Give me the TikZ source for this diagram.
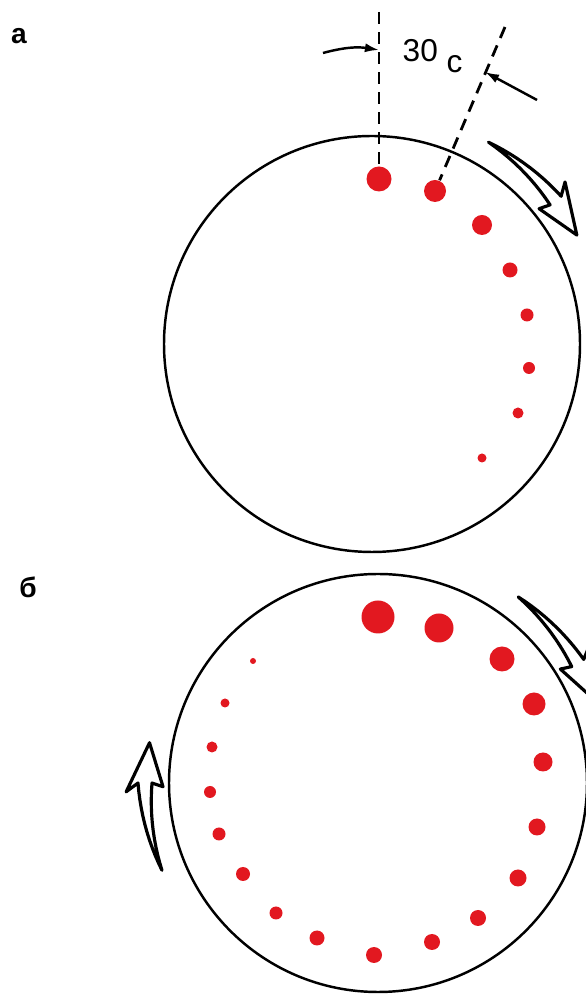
\documentclass[tikz,border=0pt]{standalone}
\usepackage{fontspec}
\setmainfont{Liberation Sans}
\usepackage{tikz}
\usetikzlibrary{arrows.meta, calc}

\definecolor{drop}{RGB}{226,24,32}

\begin{document}
\begin{tikzpicture}[
    x=0.1mm, y=0.1mm,
    dish/.style={draw, line width=0.7pt},
    spot/.style={circle, fill=drop, inner sep=0pt},
    guide/.style={dash pattern=on 3.4pt off 2.3pt, line width=0.8pt},
    tick/.style={-{Latex[length=4pt,width=2.6pt]}, line width=0.7pt},
    panel/.style={font=\fontsize{8}{9}\selectfont\bfseries},
    swirl/.pic={
        \draw[line width=0.9pt, line join=round]
            plot[domain=22:0, samples=12] (\x:{233+7*(1-\x/22)})
            -- (2:252) -- (-10:232) -- (1:215) -- (0:226)
            -- plot[domain=0:22, samples=12] (\x:{226+7*\x/22}) -- cycle;
    },
]
\clip (0,0) rectangle (586,995);

% Dishes
\coordinate (c1) at (372,651);
\coordinate (c2) at (378,212);
\draw[dish] (c1) circle[radius=208];
\draw[dish] (c2) circle[radius=209];

% Panel labels
\node[panel] (la) at (19,959) {а};
\node[panel] (lb) at (28,408) {б};

% Spots, panel a
\node[spot, minimum size=2.5mm] (a1) at (379,816) {};
\node[spot, minimum size=2.2mm] (a2) at (435,804) {};
\node[spot, minimum size=2.0mm] (a3) at (482,770) {};
\node[spot, minimum size=1.5mm] (a4) at (510,725) {};
\node[spot, minimum size=1.3mm] (a5) at (527,680) {};
\node[spot, minimum size=1.2mm] (a6) at (529,627) {};
\node[spot, minimum size=1.1mm] (a7) at (518,582) {};
\node[spot, minimum size=0.9mm] (a8) at (482,537) {};

% Spots, panel b
\node[spot, minimum size=3.3mm] (b1) at (378,378) {};
\node[spot, minimum size=2.9mm] (b2) at (439,367) {};
\node[spot, minimum size=2.5mm] (b3) at (502,336) {};
\node[spot, minimum size=2.3mm] (b4) at (534,291) {};
\node[spot, minimum size=1.9mm] (b5) at (543,233) {};
\node[spot, minimum size=1.7mm] (b6) at (537,168) {};
\node[spot, minimum size=1.7mm] (b7) at (518,117) {};
\node[spot, minimum size=1.6mm] (b8) at (478,77) {};
\node[spot, minimum size=1.6mm] (b9) at (432,53) {};
\node[spot, minimum size=1.6mm] (b10) at (374,40) {};
\node[spot, minimum size=1.5mm] (b11) at (317,57) {};
\node[spot, minimum size=1.3mm] (b12) at (276,82) {};
\node[spot, minimum size=1.4mm] (b13) at (243,121) {};
\node[spot, minimum size=1.3mm] (b14) at (219,161) {};
\node[spot, minimum size=1.2mm] (b15) at (210,203) {};
\node[spot, minimum size=1.1mm] (b16) at (212,248) {};
\node[spot, minimum size=0.9mm] (b17) at (225,292) {};
\node[spot, minimum size=0.6mm] (b18) at (253,334) {};

% Timing marks
\coordinate (g1) at (379,983);
\coordinate (g2) at (505,968);
\draw[guide] (g1) -- (a1);
\draw[guide] (g2) -- (a2);

\node[anchor=base west, inner sep=0pt, font=\fontsize{9}{10}\selectfont] (dt) at (402,933)
    {30\hspace{2.5pt}\raisebox{-3pt}{с}};

\coordinate (t1s) at (323,942);
\coordinate (t1e) at (379,945);
\draw[tick] (t1s) to[bend left=12] (t1e);

\coordinate (t2s) at (537,895);
\coordinate (t2e) at (485,923);
\draw[tick] (t2s) -- (t2e);

% Rotation arrows
\pic[rotate=38] at (c1) {swirl};
\pic[rotate=31] at (c2) {swirl};
\pic[rotate=180] at (c2) {swirl};

\end{tikzpicture}
\end{document}
